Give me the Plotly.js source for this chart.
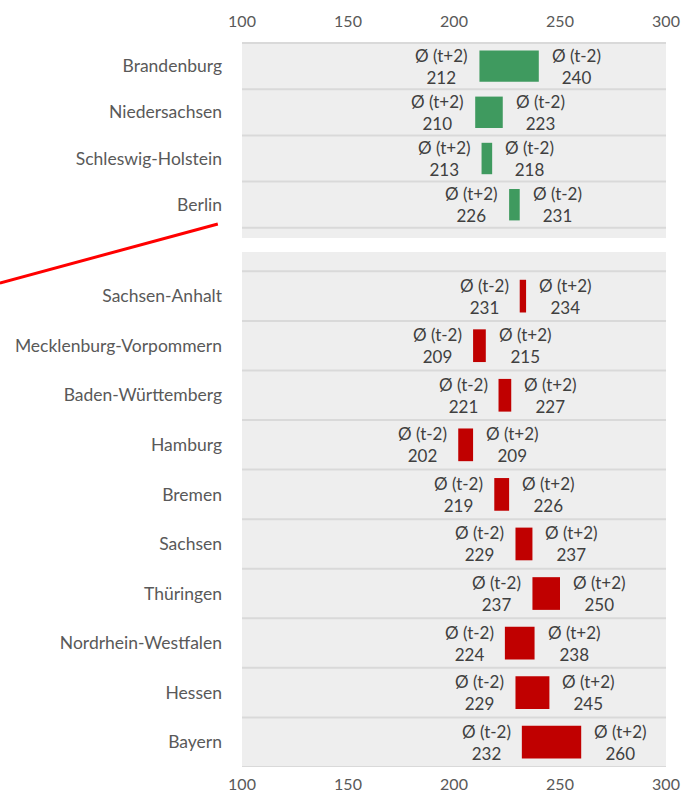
<!DOCTYPE html>
<html><head><meta charset="utf-8">
<script src="https://cdn.plot.ly/plotly-3.0.1.min.js"></script>
<style>html,body{margin:0;padding:0;background:#fff}#chart{width:685px;height:798px}</style>
</head><body><div id="chart"></div>
<script>
// Top panel (green): average t+2 lower than t-2
const topStates = ["Brandenburg", "Niedersachsen", "Schleswig-Holstein", "Berlin"];
const topTplus2 = [212, 210, 213, 226];
const topTminus2 = [240, 223, 218, 231];
// Bottom panel (red): average t+2 higher than t-2
const botStates = ["Sachsen-Anhalt", "Mecklenburg-Vorpommern", "Baden-Württemberg", "Hamburg", "Bremen", "Sachsen", "Thüringen", "Nordrhein-Westfalen", "Hessen", "Bayern"];
const botTminus2 = [231, 209, 221, 202, 219, 229, 237, 224, 229, 232];
const botTplus2 = [234, 215, 227, 209, 226, 237, 250, 238, 245, 260];
const xTicks = [100, 150, 200, 250, 300];

const FONT = "Lato, 'Open Sans', sans-serif";
const labelColor = "#404040";
const axisColor = "#595959";

const traces = [
  {
    type: "bar", orientation: "h", y: topStates,
    base: topTplus2, x: topTplus2.map((v, i) => topTminus2[i] - v),
    marker: {color: "#3f9a5f"}, width: 0.68, xaxis: "x", yaxis: "y", hoverinfo: "skip"
  },
  {
    type: "bar", orientation: "h", y: botStates,
    base: botTminus2, x: botTminus2.map((v, i) => botTplus2[i] - v),
    marker: {color: "#c00000"}, width: 0.66, xaxis: "x2", yaxis: "y2", hoverinfo: "skip"
  }
];

const annotations = [];
topStates.forEach((s, i) => {
  annotations.push({xref: "x", yref: "y", x: topTplus2[i], y: s, xanchor: "right", xshift: -9,
    text: "Ø (t+2)<br>" + topTplus2[i], showarrow: false, align: "center"});
  annotations.push({xref: "x", yref: "y", x: topTminus2[i], y: s, xanchor: "left", xshift: 11,
    text: "Ø (t-2)<br>" + topTminus2[i], showarrow: false, align: "center"});
});
botStates.forEach((s, i) => {
  annotations.push({xref: "x2", yref: "y2", x: botTminus2[i], y: s, xanchor: "right", xshift: -9,
    text: "Ø (t-2)<br>" + botTminus2[i], showarrow: false, align: "center"});
  annotations.push({xref: "x2", yref: "y2", x: botTplus2[i], y: s, xanchor: "left", xshift: 11,
    text: "Ø (t+2)<br>" + botTplus2[i], showarrow: false, align: "center"});
});
annotations.forEach(a => a.font = {family: FONT, size: 17, color: labelColor});

const shapes = [];
// panel backgrounds (first so they sit beneath the separators)
shapes.push({type: "rect", xref: "x domain", yref: "y domain", x0: 0, x1: 1, y0: 0, y1: 1,
  fillcolor: "#eeeeee", line: {width: 0}, layer: "below"});
shapes.push({type: "rect", xref: "x2 domain", yref: "y2 domain", x0: 0, x1: 1, y0: 0, y1: 1,
  fillcolor: "#eeeeee", line: {width: 0}, layer: "below"});
const sepColor = "#d9d9d9";
for (let k = -0.5; k <= topStates.length - 0.5; k += 1) {
  shapes.push({type: "line", xref: "x domain", yref: "y", x0: 0, x1: 1, y0: k, y1: k,
    line: {color: sepColor, width: 2}, layer: "below"});
}
for (let k = -0.5; k <= botStates.length - 0.5; k += 1) {
  shapes.push({type: "line", xref: "x2 domain", yref: "y2", x0: 0, x1: 1, y0: k, y1: k,
    line: {color: sepColor, width: 2}, layer: "below"});
}
// top edge of upper panel
shapes.push({type: "line", xref: "x domain", yref: "y domain", x0: 0, x1: 1, y0: 1, y1: 1,
  line: {color: sepColor, width: 2}, layer: "below"});
// red break marker in the left margin
shapes.push({type: "line", xref: "paper", yref: "paper", x0: -0.571, x1: -0.057, y0: 0.6685, y1: 0.75,
  line: {color: "#ff0000", width: 3}});

const xaxisBase = {
  range: [100, 300], tickvals: xTicks, showgrid: false, zeroline: false, showline: false,
  ticks: "", tickfont: {family: FONT, size: 16, color: axisColor}, fixedrange: true
};
const yaxisBase = {
  type: "category", showgrid: false, zeroline: false, showline: false, ticks: "",
  tickfont: {family: FONT, size: 17.5, color: axisColor}, ticklabelstandoff: 19, fixedrange: true
};

const layout = {
  width: 685, height: 798,
  margin: {l: 242, r: 19, t: 43, b: 31},
  paper_bgcolor: "#ffffff", plot_bgcolor: "rgba(0,0,0,0)",
  showlegend: false, barmode: "overlay",
  font: {family: FONT},
  xaxis: Object.assign({}, xaxisBase, {side: "top", anchor: "y", ticklabelstandoff: 12}),
  yaxis: Object.assign({}, yaxisBase, {domain: [0.7307, 1], anchor: "x", range: [3.72, -0.5]}),
  xaxis2: Object.assign({}, xaxisBase, {side: "bottom", anchor: "y2", ticklabelstandoff: 6}),
  yaxis2: Object.assign({}, yaxisBase, {domain: [0, 0.7113], anchor: "x2", range: [9.5, -0.89]}),
  annotations: annotations,
  shapes: shapes
};

Plotly.newPlot("chart", traces, layout, {displayModeBar: false, staticPlot: true});
</script></body></html>
